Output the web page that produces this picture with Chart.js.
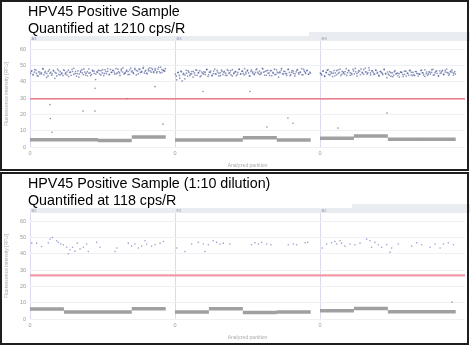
<!DOCTYPE html>
<html>
<head>
<meta charset="utf-8">
<script src="https://cdn.jsdelivr.net/npm/chart.js@4"></script>
<style>
    body { margin: 0; background: #fff; width: 470px; height: 346px; position: relative; overflow: hidden; font-family: "Liberation Sans", Arial, sans-serif; }
    canvas { position: absolute; left: 0; }
    .moldura { position: absolute; left: 0; width: 469px; border: 2px solid #1e1e1e; box-sizing: border-box; pointer-events: none; }
    .titulo { position: absolute; left: 28px; font-size: 14.3px; line-height: 16.5px; color: #000; white-space: nowrap; }
</style>
</head>
<body>
<canvas id="graficoA" width="470" height="173" style="top:0"></canvas>
<canvas id="graficoB" width="470" height="173" style="top:172px"></canvas>
<div class="moldura" style="top:0;height:171px"></div>
<div class="moldura" style="top:172px;height:173px"></div>
<div class="titulo" style="top:3px">HPV45 Positive Sample<br>Quantified at 1210 cps/R</div>
<div class="titulo" style="top:175px">HPV45 Positive Sample (1:10 dilution)<br>Quantified at 118 cps/R</div>

<script>
// Eixos e poços
const ticksY = [0, 10, 20, 30, 40, 50, 60];
const tamanhoPoco = 1000;       // espaço de cada poço no eixo x
const particoesPorBloco = 234;  // 4 blocos por poço
const rotulosPocosA = ["A3", "B3", "H3"];
const rotulosPocosB = ["B2", "F2", "B2"];

// Limiar (linha vermelha)
const limiarA = 29.5;
const limiarB = 26.7;

// Nível dos negativos por bloco (4 blocos por poço)
const negativosA = [[4.4, 4.4, 4.0, 6.1], [4.3, 4.3, 5.7, 4.3], [5.3, 6.7, 4.7, 4.7]];
const negativosB = [[6.1, 4.3, 4.3, 6.3], [4.3, 6.3, 4.0, 4.3], [5.1, 6.5, 4.5, 4.5]];

// Positivos do painel de cima (valores em ordem de partição, duas leituras por poço)
const positivosA3 = [45.2, 46.8, 44.1, 45.9, 47.2, 43.8, 46.1, 44.7, 45.5, 48.0,
    44.3, 46.4, 45.1, 43.6, 47.5, 45.8, 44.9, 46.6, 42.1, 45.3,
    47.8, 44.5, 46.2, 45.0, 43.9, 46.9, 45.4, 44.2, 47.1, 45.7,
    44.0, 46.3, 48.3, 45.1, 43.5, 46.7, 44.8, 45.9, 47.4, 44.4,
    46.0, 45.3, 43.7, 47.9, 45.6, 44.6, 46.5, 45.2, 41.4, 46.1,
    47.0, 44.9, 46.8, 45.5, 43.8, 47.3, 45.0, 46.4, 44.3, 47.6,
    45.8, 46.9, 44.7, 48.1, 45.4, 46.2, 43.9, 47.7, 46.0, 44.8,
    45.6, 47.2, 46.3, 44.5, 48.4, 46.7, 45.1, 47.5, 44.2, 46.6,
    47.9, 45.7, 46.4, 48.2, 45.3, 47.0, 44.9, 46.8, 48.6, 45.9,
    47.4, 46.1, 48.0, 45.5, 47.8, 46.3, 49.0, 45.8, 47.1, 46.5];
const positivosA3b = [46.3, 44.6, 47.5, 45.1, 43.4, 46.0, 44.9, 47.8, 45.6, 42.7,
    46.5, 45.2, 44.0, 47.0, 45.8, 43.6, 46.9, 44.3, 45.4, 47.3,
    44.8, 46.1, 43.2, 45.9, 47.6, 44.5, 46.4, 45.0, 42.9, 46.7,
    45.5, 47.9, 44.1, 46.2, 45.3, 43.8, 47.2, 46.6, 44.7, 45.7,
    46.9, 44.2, 47.4, 45.1, 46.3, 48.1, 44.6, 45.8, 47.0, 46.0,
    44.9, 47.7, 45.4, 46.8, 48.5, 45.2, 46.5, 44.4, 47.3, 46.1,
    45.6, 48.2, 46.9, 44.8, 47.6, 45.9, 48.8, 46.4, 45.3, 47.9,
    46.7, 48.3, 45.7, 47.1, 46.2, 48.9, 45.4, 47.5, 46.8, 48.0];
const positivosB3 = [44.6, 41.2, 45.8, 43.9, 46.5, 40.6, 45.1, 44.2, 47.0, 43.5,
    45.9, 44.8, 46.3, 42.9, 45.4, 47.2, 44.0, 45.7, 46.8, 43.7,
    45.2, 46.1, 44.5, 47.5, 43.3, 45.9, 46.6, 44.1, 45.0, 47.8,
    44.7, 46.0, 43.6, 45.5, 47.1, 44.4, 46.4, 45.3, 43.9, 46.9,
    45.6, 44.2, 47.4, 45.0, 46.2, 43.8, 45.7, 47.6, 44.6, 46.5,
    45.1, 48.0, 44.9, 46.7, 45.4, 43.5, 47.3, 46.1, 44.3, 45.8,
    47.9, 45.2, 46.6, 44.8, 48.3, 45.9, 46.3, 44.0, 47.0, 45.5,
    46.8, 43.7, 45.3, 47.7, 44.5, 46.0, 42.8, 45.6, 47.2, 44.9,
    46.4, 45.0, 43.9, 47.5, 45.7, 44.4, 46.9, 45.2, 43.6, 46.1,
    47.4, 44.7, 45.8, 48.1, 44.3, 46.5, 45.1, 47.0, 44.6, 45.9];
const positivosB3b = [43.4, 45.6, 42.2, 46.1, 44.5, 41.8, 45.3, 46.7, 43.9, 44.8,
    46.4, 44.1, 47.2, 45.5, 43.1, 46.0, 44.7, 45.9, 47.6, 44.3,
    45.8, 43.6, 46.6, 44.9, 47.0, 45.2, 43.8, 46.3, 45.7, 44.0,
    47.4, 45.1, 46.8, 43.5, 45.4, 46.2, 44.6, 47.8, 45.0, 46.5,
    44.2, 45.9, 47.1, 43.7, 46.4, 45.3, 44.8, 47.5, 46.0, 44.5,
    45.6, 47.9, 44.1, 46.7, 45.2, 43.9, 46.9, 45.8, 44.4, 47.3,
    45.5, 46.1, 48.2, 44.7, 46.3, 45.0, 47.7, 43.8, 45.9, 46.6,
    44.9, 47.2, 45.4, 46.0, 44.3, 47.6, 45.7, 46.8, 44.6, 45.3];
const positivosH3 = [45.3, 44.1, 46.7, 43.6, 45.8, 47.1, 44.5, 46.2, 45.0, 43.2,
    46.9, 45.4, 44.3, 47.3, 45.7, 43.8, 46.4, 45.1, 44.7, 48.0,
    45.6, 46.8, 44.0, 45.2, 47.6, 44.9, 46.1, 43.5, 45.9, 46.6,
    47.9, 45.3, 44.6, 48.4, 46.0, 45.5, 47.2, 44.2, 46.7, 45.8,
    44.8, 47.0, 45.1, 43.9, 46.3, 45.6, 44.4, 47.4, 45.0, 42.6,
    44.7, 46.2, 43.4, 45.5, 44.1, 46.8, 45.2, 43.7, 44.9, 46.0,
    45.7, 43.2, 44.6, 46.5, 45.3, 44.0, 47.1, 45.9, 43.8, 44.4,
    46.3, 45.1, 43.5, 44.8, 46.9, 45.6, 44.2, 47.3, 45.0, 43.9,
    46.1, 44.7, 45.8, 47.6, 44.3, 46.4, 45.2, 43.6, 46.7, 45.5,
    47.0, 44.5, 46.0, 47.8, 45.4, 44.8, 46.6, 45.9, 44.1, 46.2];
const positivosH3b = [44.8, 46.5, 43.3, 45.6, 47.4, 44.2, 46.0, 45.3, 43.7, 46.8,
    45.1, 47.7, 44.6, 45.9, 46.3, 43.9, 47.0, 45.5, 44.4, 46.6,
    48.2, 45.0, 46.9, 44.3, 45.7, 47.5, 46.1, 44.8, 48.6, 45.4,
    46.7, 44.5, 47.2, 45.8, 43.6, 46.4, 45.2, 47.8, 44.9, 46.0,
    44.0, 45.6, 43.1, 46.2, 44.7, 45.3, 42.9, 45.9, 44.4, 46.5,
    43.5, 45.1, 46.8, 44.2, 45.7, 43.8, 46.3, 45.0, 44.6, 47.1,
    45.4, 43.3, 46.0, 44.8, 45.9, 47.4, 44.1, 45.6, 46.7, 43.7,
    45.2, 46.4, 44.5, 47.0, 45.8, 44.0, 46.1, 47.3, 45.3, 44.7];

// Positivos do painel de baixo: [partição, RFU]
const positivosPoco1B = [[12, 46.5], [46, 46.5], [80, 44.5], [126, 46.7], [138, 49], [154, 50], [184, 48], [195, 47],
    [212, 46], [230, 45.5], [253, 44], [264, 40], [276, 42.4], [294, 44], [310, 41.6], [326, 46.5], [345, 43],
    [368, 44], [391, 46], [402, 41.4], [460, 47], [483, 44], [586, 41.4], [598, 43.5], [678, 46.5], [701, 44.7],
    [724, 46], [747, 43.5], [770, 44.7], [793, 48], [805, 46], [839, 44.7], [862, 45.5], [897, 46.5], [920, 47.5]];
const positivosPoco2B = [[12, 43.5], [69, 41.4], [115, 46], [161, 47], [195, 46], [207, 41.4], [230, 45.5],
    [264, 48], [287, 47], [310, 46], [333, 46.5], [379, 46], [528, 45.5], [552, 46.7], [575, 46], [598, 47],
    [632, 46], [662, 45.5], [781, 45.5], [816, 46], [839, 45.5], [897, 46.7], [915, 47]];
const positivosPoco3B = [[16, 43.5], [46, 46], [80, 46.7], [103, 47.5], [115, 46], [138, 48], [149, 46.5],
    [172, 44.7], [207, 46], [241, 45.5], [276, 46.5], [322, 49], [345, 48], [356, 44], [379, 47], [402, 45.5],
    [425, 44], [460, 45.5], [483, 41], [494, 43.5], [540, 46], [632, 44.7], [667, 46.7], [701, 45.5],
    [759, 44], [793, 46], [828, 43.5], [851, 46], [885, 46.7], [920, 45.5]];

// "Chuva" entre as bandas: [poço, partição, RFU]
const chuvaA = [[0, 138, 26], [0, 140, 17.5], [0, 152, 9], [0, 366, 22], [0, 448, 22], [0, 448, 36],
    [0, 669, 29.7], [0, 862, 37], [0, 917, 14], [1, 193, 34], [1, 517, 34], [1, 634, 12.3],
    [1, 779, 17.8], [1, 814, 14.6], [2, 124, 11.6], [2, 462, 20.8]];
const chuvaB = [[2, 910, 10.4]];

// Faixa de cabeçalho dos poços e os rótulos
const cabecalhoPlugin = {
    id: 'cabecalho',
    beforeDraw(chart, args, opts) {
        const { ctx, chartArea, scales } = chart;
        ctx.save();
        ctx.fillStyle = '#e9edf1';
        ctx.fillRect(chartArea.left, chartArea.top - 5, chart.width - chartArea.left, 5);
        const xAba = scales.x.getPixelForValue(opts.inicioAba);
        ctx.fillRect(xAba, chartArea.top - 9, chart.width - xAba, 9);
        ctx.fillStyle = '#8794ad';
        ctx.font = '4px "Liberation Sans"';
        ctx.textBaseline = 'middle';
        opts.rotulos.forEach((r, i) => {
            ctx.fillText(r, scales.x.getPixelForValue(i * tamanhoPoco) + 1.5, chartArea.top - 2.5);
        });
        ctx.restore();
    }
};

function montarNegativos(niveis) {
    const pontos = [];
    niveis.forEach((blocos, p) => {
        blocos.forEach((nivel, b) => {
            const inicio = p * tamanhoPoco + b * particoesPorBloco;
            pontos.push({ x: inicio, y: nivel });
            pontos.push({ x: inicio + particoesPorBloco, y: nivel });
            pontos.push({ x: inicio + particoesPorBloco, y: null });
        });
    });
    return pontos;
}

// Espalha uma lista de leituras ao longo das partições de um poço
function distribuir(valores, poco, deslocamento) {
    const passo = (4 * particoesPorBloco) / valores.length;
    return valores.map((y, i) => ({ x: poco * tamanhoPoco + (i + deslocamento) * passo, y }));
}

function criarGrafico(id, cfg) {
    const ctx = document.getElementById(id).getContext('2d');
    const total = rotulosPocosA.length * tamanhoPoco;
    return new Chart(ctx, {
        type: 'scatter',
        data: {
            datasets: [
                {
                    label: 'Limiar',
                    data: [{ x: 0, y: cfg.limiar }, { x: total, y: cfg.limiar }],
                    showLine: true,
                    borderColor: cfg.corLimiar,
                    borderWidth: cfg.larguraLimiar,
                    pointRadius: 0
                },
                {
                    label: 'Negativos',
                    data: montarNegativos(cfg.negativos),
                    showLine: true,
                    spanGaps: false,
                    borderColor: 'rgba(150,150,150,0.9)',
                    borderWidth: 3.5,
                    pointRadius: 0
                },
                {
                    label: 'Positivos',
                    data: cfg.positivos,
                    backgroundColor: cfg.corPositivos,
                    borderWidth: 0,
                    pointRadius: cfg.raioPositivos
                },
                {
                    label: 'Chuva',
                    data: cfg.chuva.map(([p, x, y]) => ({ x: p * tamanhoPoco + x, y })),
                    backgroundColor: 'rgba(110,110,120,0.8)',
                    borderWidth: 0,
                    pointRadius: 0.8
                }
            ]
        },
        options: {
            responsive: false,
            animation: false,
            layout: { padding: { left: 0, right: 5, top: 41, bottom: 0 } },
            plugins: {
                legend: { display: false },
                tooltip: { enabled: false },
                cabecalho: { rotulos: cfg.rotulos, inicioAba: cfg.inicioAba }
            },
            scales: {
                x: {
                    type: 'linear',
                    min: 0,
                    max: total,
                    afterBuildTicks: (s) => { s.ticks = cfg.rotulos.map((r, i) => ({ value: i * tamanhoPoco })); },
                    afterFit: (s) => { s.height = 26; },
                    ticks: { callback: (v) => String(v % tamanhoPoco), font: { size: 5.5 }, color: '#999', padding: 3, maxRotation: 0 },
                    grid: { color: '#d9dcf0', drawTicks: false },
                    border: { display: false },
                    title: { display: true, text: 'Analyzed partition', font: { size: 5 }, color: '#aaa' }
                },
                y: {
                    min: 0,
                    max: 65,
                    afterBuildTicks: (s) => { s.ticks = ticksY.map((v) => ({ value: v })); },
                    afterFit: (s) => { s.width = 30; },
                    ticks: { font: { size: 5.5 }, color: '#999', padding: 4 },
                    grid: { color: '#eef0f3', drawTicks: false },
                    border: { display: false },
                    title: { display: true, text: 'Fluorescence intensity [RFU]', font: { size: 5 }, color: '#aaa' }
                }
            }
        },
        plugins: [cabecalhoPlugin]
    });
}

Chart.defaults.font.family = "'Liberation Sans', Arial, sans-serif";

const positivosA = [
    ...distribuir(positivosA3, 0, 0.3), ...distribuir(positivosA3b, 0, 0.8),
    ...distribuir(positivosB3, 1, 0.3), ...distribuir(positivosB3b, 1, 0.8),
    ...distribuir(positivosH3, 2, 0.3), ...distribuir(positivosH3b, 2, 0.8)
];

const positivosB = [positivosPoco1B, positivosPoco2B, positivosPoco3B].flatMap((lista, p) =>
    lista.map(([x, y]) => ({ x: p * tamanhoPoco + x, y })));

criarGrafico('graficoA', {
    rotulos: rotulosPocosA, limiar: limiarA, corLimiar: '#e2616f', larguraLimiar: 1.3,
    negativos: negativosA, positivos: positivosA, corPositivos: 'rgba(45,62,135,0.55)', raioPositivos: 0.85,
    chuva: chuvaA, inicioAba: 1924
});
criarGrafico('graficoB', {
    rotulos: rotulosPocosB, limiar: limiarB, corLimiar: '#f29aaa', larguraLimiar: 2.2,
    negativos: negativosB, positivos: positivosB, corPositivos: 'rgba(70,85,160,0.55)', raioPositivos: 0.8,
    chuva: chuvaB, inicioAba: 2221
});
</script>
</body>
</html>
